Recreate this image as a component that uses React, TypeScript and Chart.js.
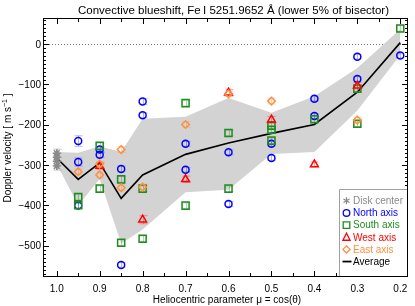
import React, { useEffect, useRef } from 'react';
import { Chart, registerables } from 'chart.js';
Chart.register(...registerables);

const FONT = '"Liberation Sans", Arial, Helvetica, sans-serif';

// ---- data ----
const MU_AVG = [1.0, 0.95, 0.9, 0.85, 0.8, 0.7, 0.6, 0.5, 0.4, 0.3, 0.2];
const AVG = [-283, -336, -295, -383, -325, -274, -246, -222, -200, -120, 3];
const BAND_UP = [-268, -270, -254, -268, -186, -181, -134, -171, -130, -60, 36];
const BAND_LO = [-298, -400, -335, -495, -460, -368, -362, -273, -268, -165, -28];

const DISK_MU = [1.0, 1.0, 1.0, 1.0];
const DISK_V = [-271, -281, -291, -303];
const DISK_ERR = [10, 10, 10, 10];

const NORTH_MU = [0.95, 0.95, 0.95, 0.9, 0.9, 0.85, 0.85, 0.8, 0.8, 0.7, 0.7, 0.6, 0.6, 0.5, 0.5, 0.4, 0.4, 0.3, 0.3, 0.2];
const NORTH_V = [-241, -293, -401, -262, -275, -310, -548, -143, -177, -248, -312, -269, -397, -248, -283, -136, -179, -32, -87, -29];
const NORTH_ERR = [13, 10, 6, 7, 7, 7, 6, 7, 6, 6, 6, 6, 6, 6, 6, 6, 6, 6, 6, 6];

const SOUTH_MU = [0.95, 0.95, 0.9, 0.9, 0.85, 0.85, 0.8, 0.8, 0.7, 0.7, 0.6, 0.6, 0.5, 0.5, 0.5, 0.4, 0.3, 0.3, 0.2];
const SOUTH_V = [-380, -400, -253, -359, -336, -493, -359, -483, -147, -401, -221, -359, -203, -213, -240, -187, -111, -198, 38];
const SOUTH_ERR = [7, 7, 7, 7, 7, 7, 7, 7, 7, 7, 7, 7, 7, 7, 7, 7, 7, 7, 7];

const WEST_MU = [0.9, 0.8, 0.7, 0.6, 0.5, 0.4, 0.3];
const WEST_V = [-303, -436, -336, -121, -188, -299, -104];
const WEST_ERR = [8, 10, 8, 8, 8, 6, 8];

const EAST_MU = [0.95, 0.9, 0.9, 0.85, 0.85, 0.8, 0.7, 0.6, 0.5, 0.3];
const EAST_V = [-317, -298, -325, -262, -357, -355, -200, -124, -142, -189];
const EAST_ERR = [7, 7, 7, 7, 7, 7, 7, 7, 7, 7];

const X_TICKS = [1.0, 0.9, 0.8, 0.7, 0.6, 0.5, 0.4, 0.3, 0.2];
const X_TICK_LABELS = ['1.0', '0.9', '0.8', '0.7', '0.6', '0.5', '0.4', '0.3', '0.2'];
const Y_TICKS = [0, -100, -200, -300, -400, -500];
const Y_TICK_LABELS = ['0', '\u2212100', '\u2212200', '\u2212300', '\u2212400', '\u2212500'];

const TITLE = 'Convective blueshift, Fe\u2009I 5251.9652 \u00C5 (lower 5% of bisector)';
const X_TITLE = 'Heliocentric parameter \u03BC = cos(\u03B8)';

const C_GRAY = '#8a8a8a';
const C_BLUE = '#0000ff';
const C_GREEN = '#1e8c1e';
const C_RED = '#ff0000';
const C_ORANGE = '#ff9040';

const LEGEND = [
  { label: 'Disk center', color: C_GRAY, sym: 'star' },
  { label: 'North axis', color: C_BLUE, sym: 'circle' },
  { label: 'South axis', color: C_GREEN, sym: 'rect' },
  { label: 'West axis', color: C_RED, sym: 'triangle' },
  { label: 'East axis', color: C_ORANGE, sym: 'diamond' },
  { label: 'Average', color: '#000000', sym: 'line' },
];

const pts = (xs: number[], ys: number[]) => xs.map((x, i) => ({ x, y: ys[i] }));

function drawSym(ctx: CanvasRenderingContext2D, sym: string, x: number, y: number, color: string) {
  ctx.save();
  ctx.strokeStyle = color;
  ctx.lineWidth = 1.3;
  ctx.beginPath();
  if (sym === 'star') {
    for (let k = 0; k < 3; k++) {
      const a = Math.PI / 2 + (k * Math.PI) / 3;
      ctx.moveTo(x - 3.5 * Math.cos(a), y - 3.5 * Math.sin(a));
      ctx.lineTo(x + 3.5 * Math.cos(a), y + 3.5 * Math.sin(a));
    }
  } else if (sym === 'circle') {
    ctx.arc(x, y, 3.3, 0, Math.PI * 2);
  } else if (sym === 'rect') {
    ctx.rect(x - 3.3, y - 3.3, 6.6, 6.6);
  } else if (sym === 'triangle') {
    ctx.moveTo(x, y - 4);
    ctx.lineTo(x + 3.6, y + 3);
    ctx.lineTo(x - 3.6, y + 3);
    ctx.closePath();
  } else if (sym === 'diamond') {
    ctx.moveTo(x, y - 3.6);
    ctx.lineTo(x + 3.6, y);
    ctx.lineTo(x, y + 3.6);
    ctx.lineTo(x - 3.6, y);
    ctx.closePath();
  } else if (sym === 'line') {
    ctx.lineWidth = 1.8;
    ctx.moveTo(x - 4, y);
    ctx.lineTo(x + 5, y);
  }
  ctx.stroke();
  ctx.restore();
}

const decor = {
  id: 'decor',
  beforeDatasetsDraw(chart: any) {
    const { ctx, chartArea: a, scales } = chart;
    const y0 = Math.round(scales.y.getPixelForValue(0)) + 0.5;
    ctx.save();
    ctx.strokeStyle = '#777';
    ctx.lineWidth = 1;
    ctx.setLineDash([1, 2]);
    ctx.beginPath();
    ctx.moveTo(a.left, y0);
    ctx.lineTo(a.right, y0);
    ctx.stroke();
    ctx.restore();
  },
  beforeDatasetDraw(chart: any, args: any) {
    const ds = chart.data.datasets[args.index];
    if (!ds.errors) return;
    const { ctx, scales } = chart;
    ctx.save();
    ctx.strokeStyle = ds.errColor;
    ctx.lineWidth = 1;
    args.meta.data.forEach((el: any, i: number) => {
      const v = ds.data[i].y;
      const e = ds.errors[i];
      const x = Math.round(el.x) + 0.5;
      const y1 = scales.y.getPixelForValue(v + e);
      const y2 = scales.y.getPixelForValue(v - e);
      ctx.beginPath();
      ctx.moveTo(x, y1);
      ctx.lineTo(x, y2);
      ctx.moveTo(x - 4, y1);
      ctx.lineTo(x + 4, y1);
      ctx.moveTo(x - 4, y2);
      ctx.lineTo(x + 4, y2);
      ctx.stroke();
    });
    ctx.restore();
  },
  afterDraw(chart: any) {
    const { ctx, chartArea: a, scales } = chart;
    const xs = scales.x;
    const ys = scales.y;
    ctx.save();
    // frame
    ctx.strokeStyle = '#000';
    ctx.lineWidth = 1;
    ctx.strokeRect(Math.round(a.left) + 0.5, Math.round(a.top) + 0.5, Math.round(a.right - a.left) - 1, Math.round(a.bottom - a.top) - 1);
    // y ticks
    ctx.beginPath();
    for (let v = -570; v <= 60; v += 10) {
      const y = Math.round(ys.getPixelForValue(v)) + 0.5;
      const len = v % 100 === 0 ? 6 : 3;
      ctx.moveTo(a.left, y);
      ctx.lineTo(a.left + len, y);
      ctx.moveTo(a.right, y);
      ctx.lineTo(a.right - len, y);
    }
    // x ticks
    for (let k = 0; k <= 16; k++) {
      const mu = 1.0 - k * 0.05;
      const x = Math.round(xs.getPixelForValue(mu)) + 0.5;
      const len = k % 2 === 0 ? 6 : 4;
      ctx.moveTo(x, a.bottom);
      ctx.lineTo(x, a.bottom - len);
      ctx.moveTo(x, a.top);
      ctx.lineTo(x, a.top + len);
    }
    ctx.stroke();

    // tick labels
    ctx.fillStyle = '#000';
    ctx.font = `10px ${FONT}`;
    ctx.textAlign = 'right';
    ctx.textBaseline = 'middle';
    Y_TICKS.forEach((v, i) => {
      ctx.fillText(Y_TICK_LABELS[i], a.left - 2, ys.getPixelForValue(v) + 1);
    });
    ctx.textAlign = 'center';
    ctx.textBaseline = 'alphabetic';
    X_TICKS.forEach((v, i) => {
      ctx.fillText(X_TICK_LABELS[i], xs.getPixelForValue(v), 291.5);
    });
    // x title
    ctx.fillText(X_TITLE, 227, 302.5);
    // title
    ctx.font = `11.5px ${FONT}`;
    ctx.fillText(TITLE, 233.5, 14);
    // y title with superscript
    ctx.save();
    ctx.translate(10.8, 148);
    ctx.rotate(-Math.PI / 2);
    ctx.font = `10px ${FONT}`;
    const p1 = 'Doppler velocity [ m s';
    const p2 = '\u22121';
    const p3 = ' ]';
    ctx.font = `10px ${FONT}`;
    const w1 = ctx.measureText(p1).width;
    const w3 = ctx.measureText(p3).width;
    ctx.font = `7px ${FONT}`;
    const w2 = ctx.measureText(p2).width;
    const tot = w1 + w2 + w3;
    ctx.textAlign = 'left';
    let cx = -tot / 2;
    ctx.font = `10px ${FONT}`;
    ctx.fillText(p1, cx, 0);
    cx += w1;
    ctx.font = `7px ${FONT}`;
    ctx.fillText(p2, cx, -4);
    cx += w2;
    ctx.font = `10px ${FONT}`;
    ctx.fillText(p3, cx, 0);
    ctx.restore();

    // legend
    const lx = 339.5;
    const ly = 189.5;
    ctx.fillStyle = '#fff';
    ctx.fillRect(lx, ly, a.right - lx - 1, a.bottom - ly - 1);
    ctx.strokeStyle = '#a0a0a0';
    ctx.beginPath();
    ctx.moveTo(lx, a.bottom - 1);
    ctx.lineTo(lx, ly);
    ctx.lineTo(a.right - 1, ly);
    ctx.stroke();
    ctx.font = `10px ${FONT}`;
    ctx.textAlign = 'left';
    ctx.textBaseline = 'middle';
    LEGEND.forEach((it, i) => {
      const yy = 200.8 + i * 12.15;
      drawSym(ctx, it.sym, 346.5, yy, it.color);
      ctx.fillStyle = it.color;
      ctx.fillText(it.label, 353, yy + 0.5);
    });
    ctx.restore();
  },
};

export default function App() {
  const ref = useRef<HTMLCanvasElement>(null);
  useEffect(() => {
    if (!ref.current) return;
    const mk = (label: string, xs: number[], ys: number[], errs: number[], color: string, errColor: string, style: string, radius: number, order: number) => ({
      label,
      data: pts(xs, ys),
      errors: errs,
      errColor,
      showLine: false,
      pointStyle: style,
      pointRadius: radius,
      pointBorderColor: color,
      pointBackgroundColor: 'rgba(0,0,0,0)',
      pointBorderWidth: 1.5,
      order,
    });
    const chart = new Chart(ref.current, {
      type: 'scatter',
      data: {
        datasets: [
          {
            label: 'band',
            data: pts(MU_AVG, BAND_UP),
            showLine: true,
            borderWidth: 0,
            borderColor: 'rgba(0,0,0,0)',
            pointRadius: 0,
            backgroundColor: '#d3d3d3',
            fill: '+1',
            order: 100,
          } as any,
          {
            label: 'bandlo',
            data: pts(MU_AVG, BAND_LO),
            showLine: true,
            borderWidth: 0,
            borderColor: 'rgba(0,0,0,0)',
            pointRadius: 0,
            fill: false,
            order: 99,
          },
          {
            label: 'Average',
            data: pts(MU_AVG, AVG),
            showLine: true,
            borderColor: '#000',
            borderWidth: 1.6,
            pointRadius: 0,
            fill: false,
            order: 90,
          },
          mk('Disk center', DISK_MU, DISK_V, DISK_ERR, C_GRAY, 'rgba(128,128,128,0.45)', 'star', 4, 6),
          mk('North axis', NORTH_MU, NORTH_V, NORTH_ERR, C_BLUE, 'rgba(0,0,255,0.3)', 'circle', 3.5, 5),
          mk('South axis', SOUTH_MU, SOUTH_V, SOUTH_ERR, C_GREEN, 'rgba(30,140,30,0.35)', 'rect', 5, 4),
          mk('West axis', WEST_MU, WEST_V, WEST_ERR, C_RED, 'rgba(255,0,0,0.35)', 'triangle', 4.5, 3),
          mk('East axis', EAST_MU, EAST_V, EAST_ERR, C_ORANGE, 'rgba(255,144,64,0.4)', 'rectRot', 3.8, 2),
        ] as any,
      },
      options: {
        animation: false,
        responsive: false,
        layout: { padding: { left: 43, right: 7, top: 18, bottom: 29 } },
        scales: {
          x: { type: 'linear', min: 0.182, max: 1.032, reverse: true, display: false },
          y: { type: 'linear', min: -578, max: 64, display: false },
        },
        plugins: {
          legend: { display: false },
          title: { display: false },
          tooltip: { enabled: false },
        },
        events: [],
      },
      plugins: [decor],
    } as any);
    return () => chart.destroy();
  }, []);
  return (
    <div style={{ position: 'fixed', left: 0, top: 0, width: 415, height: 306, background: '#fff' }}>
      <canvas ref={ref} width={415} height={306} style={{ display: 'block' }} />
    </div>
  );
}
